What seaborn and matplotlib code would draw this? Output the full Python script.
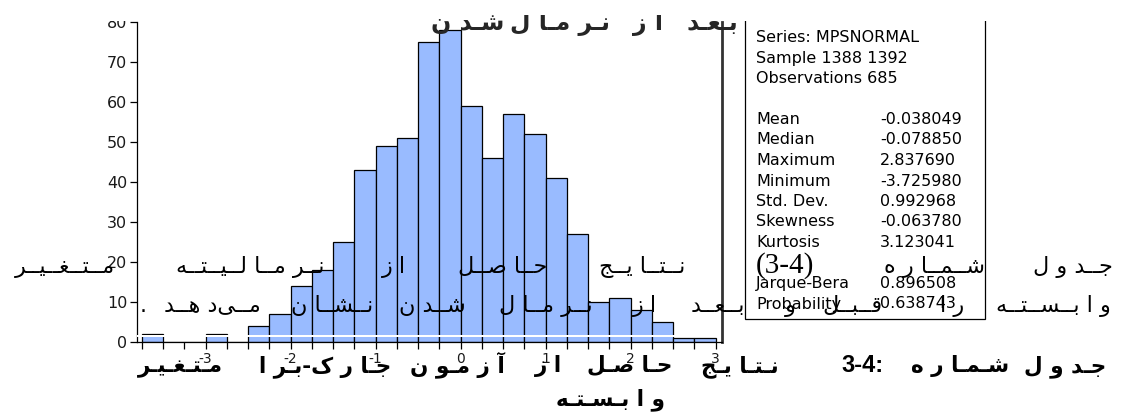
import numpy as np
import matplotlib
matplotlib.use("Agg")
import matplotlib.pyplot as plt
from matplotlib.patches import Rectangle
from matplotlib.transforms import Bbox
import seaborn as sns

# ---------------------------------------------------------------- data
# histogram of MPSNORMAL, bins of width 0.25
bin_left = [-3.75, -3.5, -3.25, -3.0, -2.75, -2.5, -2.25, -2.0, -1.75, -1.5,
            -1.25, -1.0, -0.75, -0.5, -0.25, 0.0, 0.25, 0.5, 0.75, 1.0,
            1.25, 1.5, 1.75, 2.0, 2.25, 2.5, 2.75]
counts = [2, 0, 0, 2, 0, 4, 7, 14, 18, 25,
          43, 49, 51, 75, 78, 59, 46, 57, 52, 41,
          27, 10, 11, 8, 5, 1, 1]
bin_width = 0.25
x_ticks = [-3, -2, -1, 0, 1, 2, 3]
y_ticks = [0, 10, 20, 30, 40, 50, 60, 70, 80]

stat_header = ["Series: MPSNORMAL", "Sample 1388 1392", "Observations 685"]
stat_names = ["Mean", "Median", "Maximum", "Minimum", "Std. Dev.", "Skewness", "Kurtosis"]
stat_values = ["-0.038049", "-0.078850", "2.837690", "-3.725980", "0.992968", "-0.063780", "3.123041"]
test_names = ["Jarque-Bera", "Probability"]
test_values = ["0.896508", "0.638743"]

title_words = ["بعد", "از", "نرمال", "شدن"]
line1_words = ["جدول", "شماره", "(3-4)", "نتایج", "حاصل", "از", "نرمالیته", "متغیر"]
line2_words = ["وابسته", "را", "قبل", "و", "بعد", "از", "نرمال", "شدن", "نشان", "می\u200cدهد", "."]
caption1_words = ["جدول", "شماره", "3-4:", "نتایج", "حاصل", "از", "آزمون", "جارک-برا", "متغیر"]
caption2_words = ["وابسته"]

# horizontal centres of the words on each text line (pixels)
title_x = [712, 648, 560, 468]
line1_x = [1073, 935, 785, 642, 503, 394, 250, 65]
line2_x = [1053, 952, 852, 790, 718, 645, 546, 432, 332, 212, 143]
caption1_x = [1065, 960, 862, 740, 630, 548, 457, 325, 180]
caption2_x = [610]

# ---------------------------------------------------------------- Persian shaping
FOUR = {'ب': 0xFE8F, 'ت': 0xFE95, 'ث': 0xFE99, 'ج': 0xFE9D, 'ح': 0xFEA1, 'خ': 0xFEA5,
        'س': 0xFEB1, 'ش': 0xFEB5, 'ص': 0xFEB9, 'ض': 0xFEBD, 'ط': 0xFEC1, 'ظ': 0xFEC5,
        'ع': 0xFEC9, 'غ': 0xFECD, 'ف': 0xFED1, 'ق': 0xFED5, 'ل': 0xFEDD, 'م': 0xFEE1,
        'ن': 0xFEE5, 'ه': 0xFEE9, 'پ': 0xFB56, 'چ': 0xFB7A, 'ک': 0xFB8E, 'گ': 0xFB92,
        'ی': 0xFBFC}
TWO = {'ا': 0xFE8D, 'آ': 0xFE81, 'أ': 0xFE83, 'د': 0xFEA9, 'ذ': 0xFEAB, 'ر': 0xFEAD,
       'ز': 0xFEAF, 'ژ': 0xFB8A, 'و': 0xFEED}
TATWEEL = '\u0640'


def _joins_next(c):
    return c in FOUR or c == TATWEEL


def _joins_prev(c):
    return c in FOUR or c in TWO or c == TATWEEL


def shape(word, kashida=1, gap=' '):
    """Contextual forms in visual (left-to-right) order."""
    if not any(c in FOUR or c in TWO for c in word):
        return word
    chars = list(word)
    out = []
    for i, c in enumerate(chars):
        prev = chars[i - 1] if i > 0 else ''
        nxt = chars[i + 1] if i + 1 < len(chars) else ''
        if c in FOUR or c in TWO:
            a = prev != '' and _joins_next(prev)
            b = c in FOUR and nxt != '' and _joins_prev(nxt)
            if c in FOUR:
                off = 3 if (a and b) else 1 if a else 2 if b else 0
                base = FOUR[c]
            else:
                off = 1 if a else 0
                base = TWO[c]
            out.append(chr(base + off))
            if b and kashida and nxt != TATWEEL:
                out.append(TATWEEL * kashida)
            elif not b and gap and (nxt in FOUR or nxt in TWO):
                out.append(gap)
        elif c == '\u200c':
            continue
        else:
            out.append(c)
    return ''.join(reversed(out))


# ---------------------------------------------------------------- figure
W, H = 1123, 412
sns.set_theme(style="white")
plt.rcParams['font.family'] = ['DejaVu Sans']
plt.rcParams['axes.unicode_minus'] = False

fig = plt.figure(figsize=(W / 100, H / 100), dpi=100)
fig.patch.set_facecolor('white')


def fx(x):
    return x / W


def fy(y):
    return 1 - y / H


ax = fig.add_axes([fx(137), fy(342), (722 - 137) / W, (342 - 22) / H])
centres = [b + bin_width / 2 for b in bin_left]
edges = bin_left + [bin_left[-1] + bin_width]
sns.histplot(x=centres, weights=counts, bins=edges, ax=ax,
             color='#99BBFF', edgecolor='black', linewidth=0.9, alpha=1.0)

ax.set_xlim(-3.806, 3.076)
ax.set_ylim(0, 80)
ax.set_xlabel('')
ax.set_ylabel('')
ax.set_xticks(x_ticks)
ax.set_xticks(edges, minor=True)
ax.set_yticks(y_ticks)
ax.tick_params(axis='both', which='both', direction='out', length=5, width=0.9,
               color='black', labelcolor='#1a1a1a')
ax.tick_params(axis='x', which='both', bottom=True, labelsize=10, pad=2)
ax.tick_params(axis='y', left=True, labelsize=11.5, pad=2)
ax.grid(False)
ax.spines['top'].set_visible(False)
for s in ('left', 'bottom'):
    ax.spines[s].set_color('black')
    ax.spines[s].set_linewidth(0.9)
ax.spines['right'].set_color('#333333')
ax.spines['right'].set_linewidth(2.0)

# thin white strip across the lower part of the bars
fig.add_artist(Rectangle((fx(137), fy(337)), (720 - 137) / W, 2 / H,
                         transform=fig.transFigure, facecolor='white',
                         edgecolor='none', zorder=5))

# statistics panel
fig.add_artist(Rectangle((fx(745), fy(319)), (985 - 745) / W, (319 - 10) / H,
                         transform=fig.transFigure, facecolor='none',
                         edgecolor='black', linewidth=0.9, zorder=4))
row = 20.5
y0 = 42
sfs = 11.5
for i, t in enumerate(stat_header):
    fig.text(fx(756), fy(y0 + i * row), t, fontsize=sfs, color='black', zorder=6)
for i, (n, v) in enumerate(zip(stat_names, stat_values)):
    y = y0 + (i + 4) * row
    fig.text(fx(756), fy(y), n, fontsize=sfs, color='black', zorder=6)
    fig.text(fx(880), fy(y), v, fontsize=sfs, color='black', zorder=6)
for i, (n, v) in enumerate(zip(test_names, test_values)):
    y = y0 + (i + 12) * row
    fig.text(fx(756), fy(y), n, fontsize=sfs, color='black', zorder=6)
    fig.text(fx(880), fy(y), v, fontsize=sfs, color='black', zorder=6)

# white band along the top edge
fig.add_artist(Rectangle((0, fy(21)), 1, 21 / H, transform=fig.transFigure,
                         facecolor='white', edgecolor='none', zorder=7))

# heading, only its lower part shows
clip = Bbox.from_extents(0, 0, W, H - 15)
for w, x in zip(title_words, title_x):
    t = fig.text(fx(x), fy(30), shape(w, kashida=1), fontsize=17, fontweight='bold',
                 family=['DejaVu Sans'], ha='center', va='baseline', zorder=8)
    t.set_clip_box(clip)
    t.set_clip_on(True)


def put_words(words, xs, ybase, size, weight='normal', digit_family='Liberation Serif',
              digit_size=None, kashida=1, gap=' '):
    for w, x in zip(words, xs):
        s = shape(w, kashida=kashida, gap=gap)
        if s == w and w != '.':
            fam = [digit_family, 'DejaVu Sans']
            fs = digit_size or size
        else:
            fam = ['DejaVu Sans']
            fs = size
        fig.text(fx(x), fy(ybase), s, fontsize=fs, fontweight=weight, family=fam,
                 ha='center', va='baseline', color='black', zorder=9)


# body paragraph over the chart
put_words(line1_words, line1_x, 273, 16, digit_size=21, kashida=2)
put_words(line2_words, line2_x, 312, 16, kashida=2)

# table caption
put_words(caption1_words, caption1_x, 372, 15.5, weight='bold',
          digit_family='Liberation Sans', digit_size=17)
put_words(caption2_words, caption2_x, 405, 15.5, weight='bold')

fig.savefig('out.png', dpi=100, facecolor='white')
